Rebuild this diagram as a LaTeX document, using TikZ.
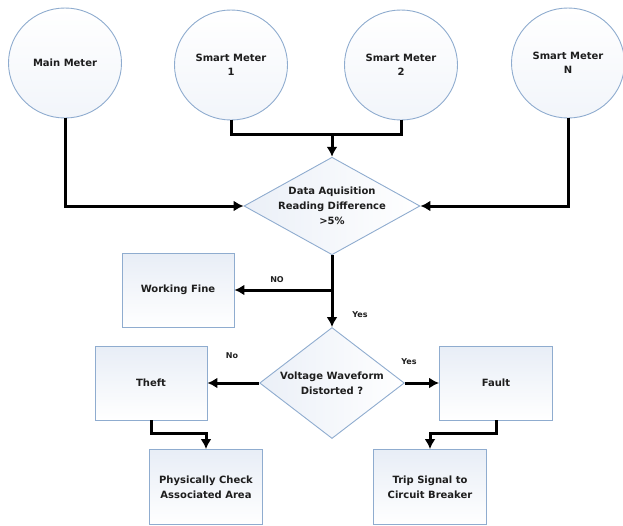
\documentclass[tikz,border=0pt]{standalone}
\usepackage{fontspec}
\setmainfont{DejaVu Sans}
\usetikzlibrary{shapes.geometric,arrows.meta}

\definecolor{edgeblue}{RGB}{143,172,207}
\definecolor{shadeblue}{RGB}{226,233,244}
\definecolor{inkgray}{RGB}{30,30,30}

\tikzset{
  meter/.style={ellipse, draw=edgeblue, line width=0.9pt, minimum width=113pt, minimum height=110pt,
    top color=white, bottom color=shadeblue!45, align=center, font=\fontsize{10}{14}\selectfont\bfseries, text=inkgray},
  decide/.style={diamond, draw=edgeblue, line width=0.9pt, aspect=1.8, inner sep=0pt,
    left color=shadeblue!70, right color=white, align=center, font=\fontsize{10}{15}\selectfont\bfseries, text=inkgray},
  stepbox/.style={rectangle, draw=edgeblue, line width=0.9pt, minimum width=112pt, minimum height=74pt,
    top color=shadeblue!80, bottom color=white, align=center, font=\fontsize{10}{15}\selectfont\bfseries, text=inkgray},
  flow/.style={->, line width=3pt, line join=miter, draw=black},
  link/.style={line width=3pt, line join=miter, draw=black},
  answer/.style={font=\fontsize{8}{10}\selectfont\bfseries, text=inkgray},
}

\begin{document}
\begin{tikzpicture}[x=1pt, y=-1pt, >={Latex[length=10pt,width=11pt]}]
\useasboundingbox (0,0) rectangle (623,525);

% meters on top
\node[meter] (mainm) at (65,63) {Main Meter};
\node[meter] (sm1) at (231,65) {Smart Meter\\1};
\node[meter] (sm2) at (401,65) {Smart Meter\\2};
\node[meter] (smn) at (568,63) {Smart Meter\\N};

% first check
\node[decide, minimum width=176pt, minimum height=96pt] (d1) at (332,206) {Data Aquisition\\Reading Difference\\{>}5\%};
\node[stepbox] (fine) at (178,290) {Working Fine};

% second check
\node[decide, minimum width=140pt, minimum height=111pt] (d2) at (332,383) {Voltage Waveform\\Distorted ?};
\node[stepbox] (theft) at (151,383) {Theft};
\node[stepbox, minimum width=113pt] (fault) at (496,383) {Fault};
\node[stepbox, minimum width=113pt, minimum height=75pt] (phys) at (206,487) {Physically Check\\Associated Area};
\node[stepbox, minimum width=113pt, minimum height=75pt] (trip) at (430,487) {Trip Signal to\\Circuit Breaker};

\coordinate (jn) at (332,134);
\coordinate (split) at (332,290);

\draw[flow] (mainm.south) |- (d1.west);
\draw[flow] (smn.south) |- (d1.east);
\draw[link] (sm1.south) |- (jn) -| (sm2.south);
\draw[flow] (jn) -- (d1.north);

\draw[link] (d1.south) -- (split);
\draw[flow] (split) -- (fine.east);
\draw[flow] (split) -- (d2.north);
\node[answer] (lno) at (277,280) {NO};
\node[answer] (lyes) at (360,315) {Yes};

\draw[flow] (d2.west) -- (theft.east);
\draw[flow] (d2.east) -- (fault.west);
\node[answer] (lno2) at (232,356) {No};
\node[answer] (lyes2) at (409,362) {Yes};

\draw[flow] (theft.south) -- ++(0,13) -| (phys.north);
\draw[flow] (fault.south) -- ++(0,13) -| (trip.north);

\end{tikzpicture}
\end{document}
